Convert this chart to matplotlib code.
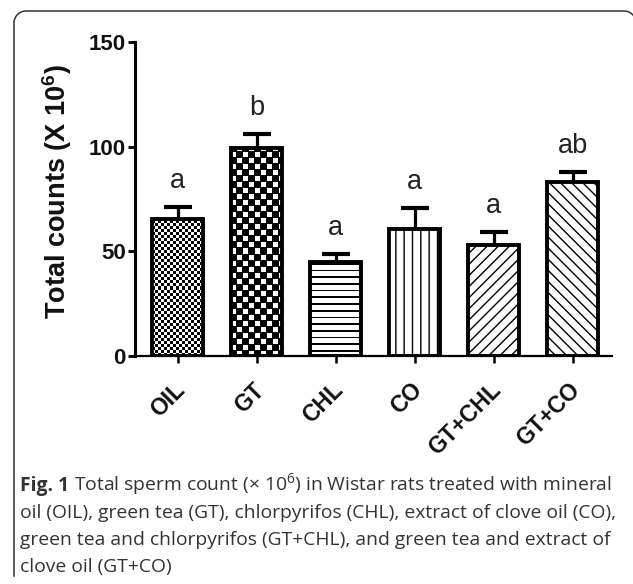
import numpy as np
import matplotlib
matplotlib.use("Agg")
import matplotlib.pyplot as plt
from matplotlib.lines import Line2D
from matplotlib.transforms import ScaledTranslation

# ---------------- data ----------------
groups = ["OIL", "GT", "CHL", "CO", "GT+CHL", "GT+CO"]
means = [65.5, 99.4, 44.9, 60.7, 53.0, 82.9]
sems = [5.7, 6.6, 3.8, 10.0, 6.2, 4.8]
letters = ["a", "b", "a", "a", "a", "ab"]
fills = ["check_fine", "check_coarse", "hlines", "||", "///", "\\\\\\"]
yticks = [0, 50, 100, 150]
ylabel = r"Total counts (X 10$^{\mathbf{6}}$)"
caption_bold = "Fig. 1"
caption_lines = [
    " Total sperm count (\u00d7 10$^{\\mathrm{6}}$) in Wistar rats treated with mineral",
    "oil (OIL), green tea (GT), chlorpyrifos (CHL), extract of clove oil (CO),",
    "green tea and chlorpyrifos (GT+CHL), and green tea and extract of",
    "clove oil (GT+CO)",
]

# ---------------- style ----------------
plt.rcParams["mathtext.fontset"] = "custom"
plt.rcParams["mathtext.bf"] = "Liberation Sans:bold"
plt.rcParams["mathtext.rm"] = "Open Sans"
plt.rcParams["hatch.linewidth"] = 1.0
plt.rcParams["font.family"] = ["Liberation Sans", "DejaVu Sans"]

W, H, DPI = 633, 584, 100
fig = plt.figure(figsize=(W / DPI, H / DPI), dpi=DPI)
fig.patch.set_facecolor("white")

# rounded frame (open at the bottom; right side just outside the picture)
fl, ft, fr, fbtm, rad = 14, 11, 636, 8, 12
t = np.linspace(0, np.pi / 2, 20)
left_arc_x = fl + rad - rad * np.cos(t)
left_arc_y = (H - ft - rad) + rad * np.sin(t)
right_arc_x = (fr - rad) + rad * np.sin(t)
right_arc_y = (H - ft - rad) + rad * np.cos(t)
px = np.concatenate([[fl], left_arc_x, right_arc_x, [fr]])
py = np.concatenate([[fbtm], left_arc_y, right_arc_y, [fbtm]])
fig.add_artist(Line2D(px, py, transform=None, color="#333333", linewidth=1.1))

ax = fig.add_axes([135 / W, (H - 356) / H, (612 - 135) / W, (356 - 42) / H])
x = np.arange(len(groups))
bw = 0.64
ax.set_xlim(-0.54, 5.5)
ax.set_ylim(0, 150)

bars = ax.bar(x, means, width=bw, color="white", edgecolor="black",
              linewidth=0, zorder=2)
outline = ax.bar(x, means, width=bw, fill=False, edgecolor="black",
                 linewidth=2.8, zorder=3)


def texture(kind, npy, npx):
    ii, jj = np.indices((npy, npx))
    if kind == "check_fine":
        m = ((ii // 3 + jj // 3) % 2) == 0
    elif kind == "check_coarse":
        white = (((ii // 6 + jj // 6) % 2) == 1) & (ii % 6 < 5) & (jj % 6 < 5)
        m = ~white
    else:  # horizontal lines
        m = ((ii + 3.0) % 6.7) < 1.7
    return np.where(m, 0.0, 1.0)


for i, (b, kind) in enumerate(zip(outline, fills)):
    if kind in ("check_fine", "check_coarse", "hlines"):
        x0 = x[i] - bw / 2
        x1 = x[i] + bw / 2
        (px0, py0), (px1, py1) = ax.transData.transform([(x0, 0), (x1, means[i])])
        npx = max(1, int(round(px1 - px0)))
        npy = max(1, int(round(py1 - py0)))
        im = ax.imshow(texture(kind, npy, npx), cmap="gray", vmin=0, vmax=1,
                       extent=(x0, x1, 0, means[i]), origin="lower",
                       interpolation="nearest", aspect="auto", zorder=2.5)
        im.set_clip_path(bars[i])
    else:
        b.set_hatch(kind)

ax.set_xlim(-0.54, 5.5)
ax.set_ylim(0, 150)

eb = ax.errorbar(x, means, yerr=[[0] * len(sems), sems], fmt="none",
                 ecolor="black", elinewidth=2.3, capsize=10, capthick=3.0,
                 zorder=4)
eb[1][0].set_visible(False)

for xi, m, s, lt in zip(x, means, sems, letters):
    ax.annotate(lt, xy=(xi, m + s), xytext=(0, 14), textcoords="offset points",
                ha="center", va="baseline", fontsize=19.5,
                family="Liberation Sans", color="#222222")

for side in ("top", "right"):
    ax.spines[side].set_visible(False)
ax.spines["left"].set_linewidth(2.2)
ax.spines["bottom"].set_linewidth(1.6)

ax.set_yticks(yticks)
ax.set_xticks(x)
ax.set_xticklabels(groups, rotation=45, ha="right", va="center",
                   rotation_mode="anchor")
ax.tick_params(axis="y", direction="out", length=5, width=2, pad=1.5,
               labelsize=16)
ax.tick_params(axis="x", direction="out", length=5, width=1.8, pad=17,
               labelsize=16.5)
for lbl in ax.get_yticklabels() + ax.get_xticklabels():
    lbl.set_fontweight("bold")
    lbl.set_color("#111111")
for lbl in ax.get_xticklabels():
    lbl.set_transform(lbl.get_transform() +
                      ScaledTranslation(3 / 72, 0, fig.dpi_scale_trans))

ax.set_ylabel(ylabel, fontsize=19.5, fontweight="bold", color="#111111")
ax.yaxis.set_label_coords(-0.128, 0.525)

# caption
cap_x = 20 / W
baselines = [491, 518, 545, 572]
cap_kw = dict(fontsize=13.9, family="Open Sans", color="#333333")
fbx = fig.text(cap_x, 1 - baselines[0] / H, caption_bold, fontweight="bold",
               va="baseline", ha="left", **cap_kw)
fig.canvas.draw()
r = fig.canvas.get_renderer()
bb = fbx.get_window_extent(r)
fig.text(bb.x1 / W, 1 - baselines[0] / H, caption_lines[0], va="baseline",
         ha="left", **cap_kw)
for line, yb in zip(caption_lines[1:], baselines[1:]):
    fig.text(cap_x, 1 - yb / H, line, va="baseline", ha="left", **cap_kw)

fig.savefig("out.png", dpi=DPI)
